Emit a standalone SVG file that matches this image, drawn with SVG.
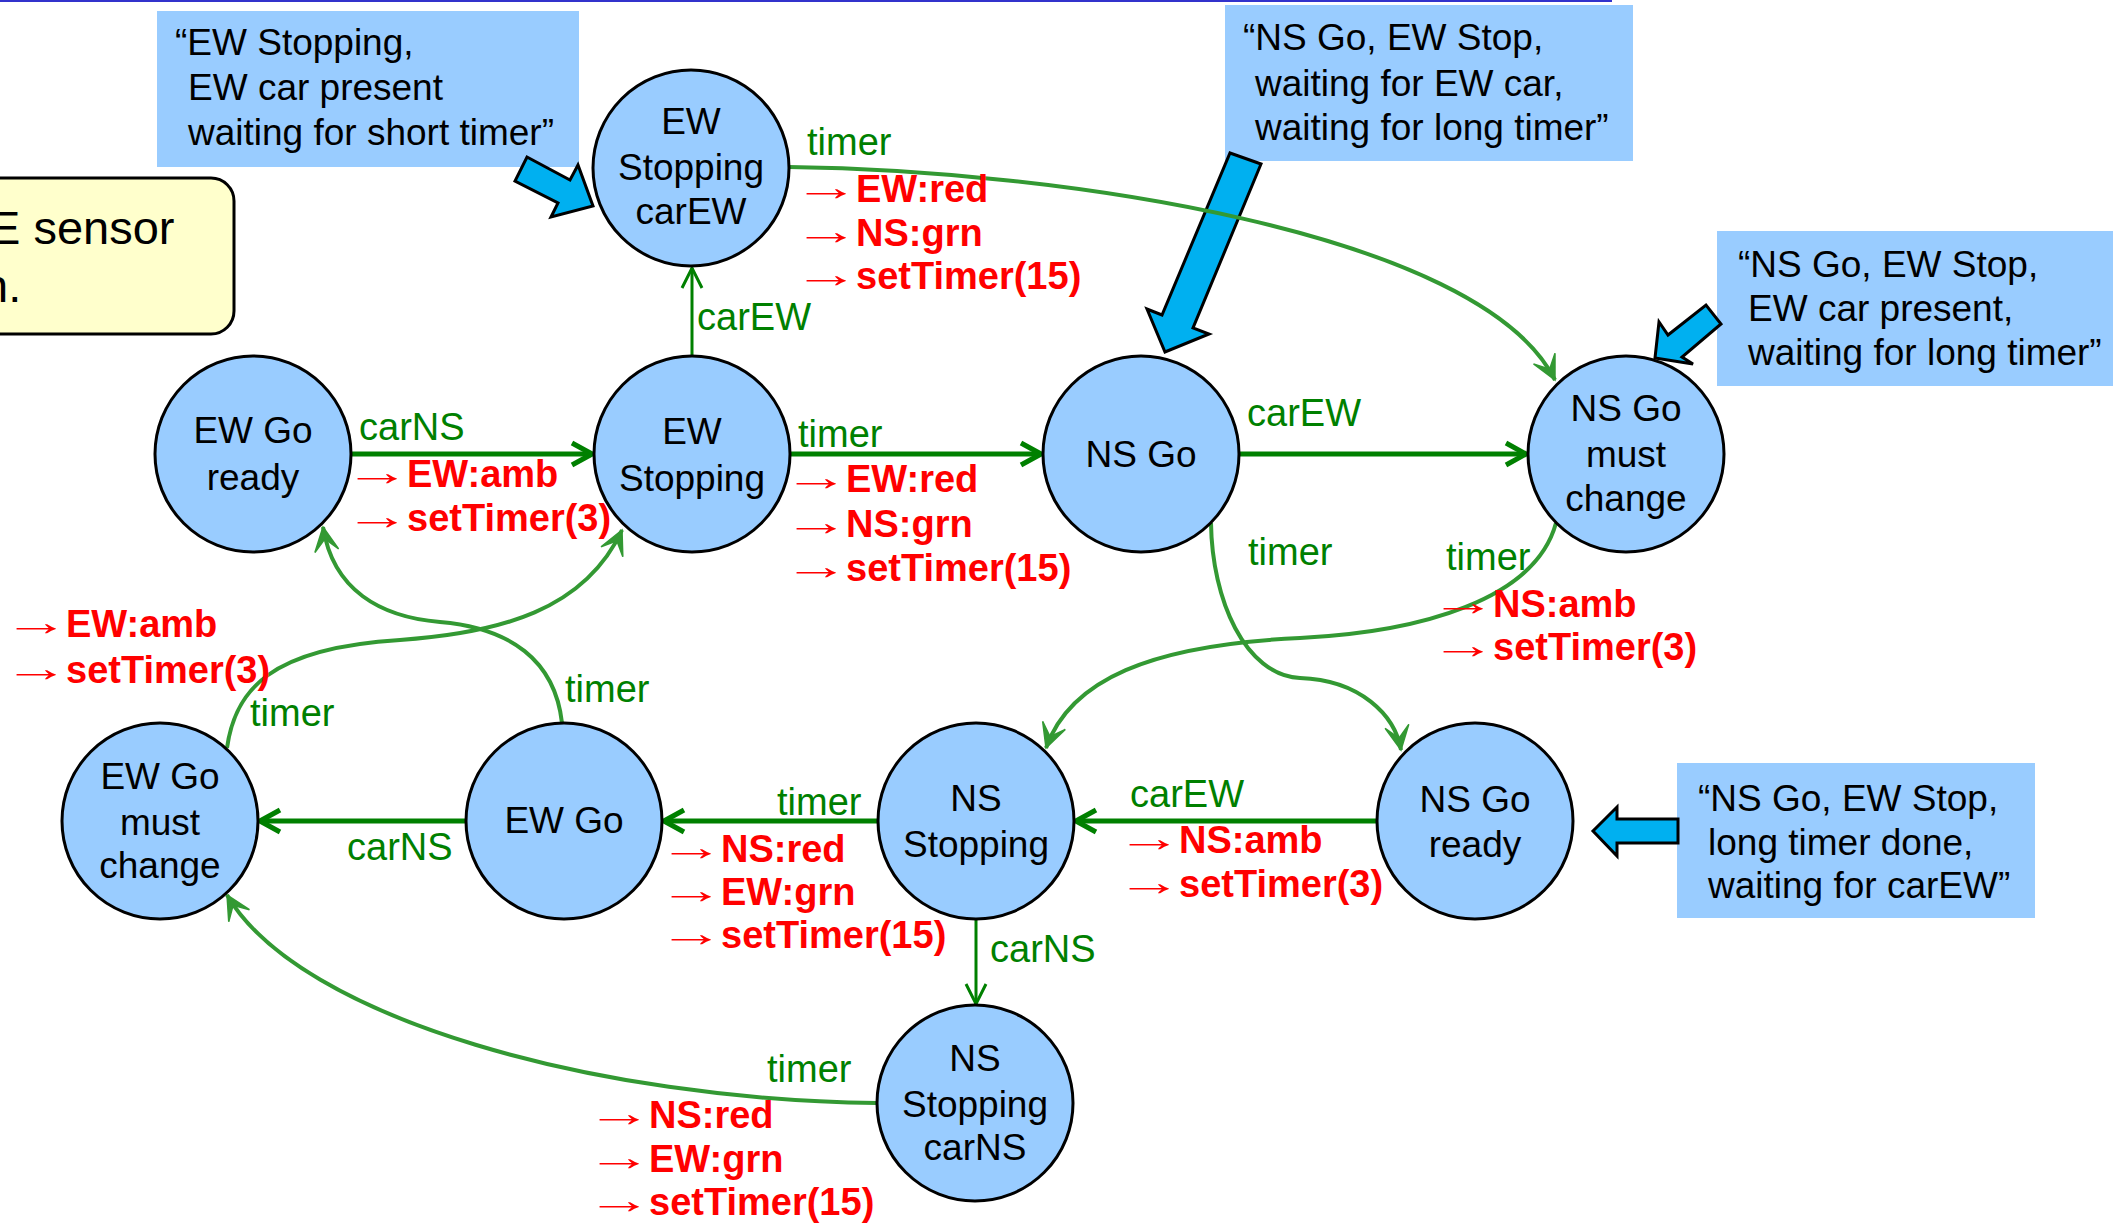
<svg xmlns="http://www.w3.org/2000/svg" width="2113" height="1225" viewBox="0 0 2113 1225">
  <style>
    .st circle { fill: #99ccff; stroke: #000; stroke-width: 3; }
    .st text { font-family: "Liberation Sans", Arial, sans-serif; font-size: 37px; text-anchor: middle; fill: #000; }
    .lbl { font-family: "Liberation Sans", Arial, sans-serif; font-size: 38px; fill: #008000; }
    .act { font-family: "Liberation Sans", Arial, sans-serif; font-size: 38px; font-weight: bold; fill: #ff0000; }
    .ar { font-family: "Liberation Sans", Arial, sans-serif; font-size: 38px; fill: #ff0000; }
    .note rect { fill: #99ccff; }
    .note polygon { fill: #00b0f0; stroke: #000; stroke-width: 3; stroke-linejoin: miter; }
    .note text { font-family: "Liberation Sans", Arial, sans-serif; font-size: 37px; fill: #000; }
    .straight { fill: none; stroke: #008000; stroke-width: 5; marker-end: url(#chev); }
    .thin { fill: none; stroke: #008000; stroke-width: 3; marker-end: url(#chevThin); }
    .curve { fill: none; stroke: #339933; stroke-width: 4; marker-end: url(#barb); }
  </style>
  <defs>
    <marker id="chev" markerUnits="userSpaceOnUse" viewBox="-24 -14 28 28" refX="0" refY="0" markerWidth="28" markerHeight="28" orient="auto">
      <path d="M-20,-11 L0,0 L-20,11" fill="none" stroke="#008000" stroke-width="5"/>
    </marker>
    <marker id="chevThin" markerUnits="userSpaceOnUse" viewBox="-24 -14 28 28" refX="0" refY="0" markerWidth="28" markerHeight="28" orient="auto">
      <path d="M-20,-10 L0,0 L-20,10" fill="none" stroke="#008000" stroke-width="3"/>
    </marker>
    <marker id="barb" markerUnits="userSpaceOnUse" viewBox="-26 -14 30 28" refX="0" refY="0" markerWidth="30" markerHeight="28" orient="auto">
      <path d="M0,0 L-24,-12 L-12,0 L-24,12 Z" fill="#339933" stroke="#339933" stroke-width="1.5" stroke-linejoin="miter"/>
    </marker>
  </defs>

  <rect x="0" y="0" width="1612" height="2" fill="#3333cc"/>

  <!-- sticky note running off the left edge -->
  <g id="sensor-note">
    <rect x="-40" y="178" width="274" height="156" rx="23" fill="#ffffcc" stroke="#000" stroke-width="3"/>
    <text x="-11" y="244" font-family="'Liberation Sans', Arial, sans-serif" font-size="47" fill="#000">E sensor</text>
    <text x="-18" y="302" font-family="'Liberation Sans', Arial, sans-serif" font-size="47" fill="#000">n.</text>
  </g>

  <!-- callouts -->
  <g id="note-ew-stopping-carew" class="note">
    <rect x="157" y="11" width="422" height="156"/>
    <text x="175" y="55">“EW Stopping,</text>
    <text x="188" y="100">EW car present</text>
    <text x="188" y="145">waiting for short timer”</text>
    <polygon points="527,157 570,180 578,165 593,206 551,217 558,203 515,181"/>
  </g>
  <g id="note-ns-go" class="note">
    <rect x="1225" y="5" width="408" height="156"/>
    <text x="1243" y="50">“NS Go, EW Stop,</text>
    <text x="1255" y="96">waiting for EW car,</text>
    <text x="1255" y="140">waiting for long timer”</text>
    <polygon points="1230,153 1261,164 1193,328 1209,334 1165,352 1147,309 1162,315"/>
  </g>
  <g id="note-ns-go-must-change" class="note">
    <rect x="1717" y="231" width="400" height="155"/>
    <text x="1738" y="277">“NS Go, EW Stop,</text>
    <text x="1748" y="321">EW car present,</text>
    <text x="1748" y="365">waiting for long timer”</text>
    <polygon points="1655,358 1659,322 1668,335 1706,305 1721,324 1682,357 1693,364"/>
  </g>
  <g id="note-ns-go-ready" class="note">
    <rect x="1677" y="763" width="358" height="155"/>
    <text x="1698" y="811">“NS Go, EW Stop,</text>
    <text x="1708" y="855">long timer done,</text>
    <text x="1708" y="898">waiting for carEW”</text>
    <polygon points="1678,819 1617,819 1617,807 1593,831 1617,856 1617,843 1678,843"/>
  </g>

  <!-- transitions -->
  <g id="connectors">
    <path class="straight" d="M351,454 L592,454"/>
    <path class="straight" d="M790,454 L1041,454"/>
    <path class="straight" d="M1239,454 L1526,454"/>
    <path class="thin" d="M692,356 L692,268"/>
    <path class="straight" d="M1377,821 L1076,821"/>
    <path class="straight" d="M878,821 L664,821"/>
    <path class="straight" d="M466,821 L260,821"/>
    <path class="thin" d="M976,919 L976,1004"/>

    <path class="curve" d="M789,167 C1050,170 1480,230 1555,380"/>
    <path class="curve" d="M1211,523 C1212,600 1245,675 1300,678 C1360,680 1395,715 1401,750"/>
    <path class="curve" d="M1556,523 C1535,600 1420,632 1300,638 C1150,645 1070,680 1046,748"/>
    <path class="curve" d="M877,1103 C600,1100 300,1020 227,895"/>
    <path class="curve" d="M227,748 C235,690 270,648 400,640 C500,633 585,610 622,530"/>
    <path class="curve" d="M562,723 C555,660 510,628 440,622 C380,617 333,590 323,527"/>

    <!-- EW Go ready -> EW Stopping -->
    <text class="lbl" x="359" y="440">carNS</text>
    <text class="ar" transform="translate(344 485) scale(1.75 1)">→</text>
    <text class="act" x="407" y="487">EW:amb</text>
    <text class="ar" transform="translate(344 529) scale(1.75 1)">→</text>
    <text class="act" x="407" y="531">setTimer(3)</text>

    <!-- EW Stopping -> NS Go -->
    <text class="lbl" x="798" y="447">timer</text>
    <text class="ar" transform="translate(783 490) scale(1.75 1)">→</text>
    <text class="act" x="846" y="492">EW:red</text>
    <text class="ar" transform="translate(783 535) scale(1.75 1)">→</text>
    <text class="act" x="846" y="537">NS:grn</text>
    <text class="ar" transform="translate(783 579) scale(1.75 1)">→</text>
    <text class="act" x="846" y="581">setTimer(15)</text>

    <text class="lbl" x="1247" y="426">carEW</text>
    <text class="lbl" x="697" y="330">carEW</text>

    <!-- EW Stopping carEW -> NS Go must change -->
    <text class="lbl" x="807" y="155">timer</text>
    <text class="ar" transform="translate(793 200) scale(1.75 1)">→</text>
    <text class="act" x="856" y="202">EW:red</text>
    <text class="ar" transform="translate(793 244) scale(1.75 1)">→</text>
    <text class="act" x="856" y="246">NS:grn</text>
    <text class="ar" transform="translate(793 287) scale(1.75 1)">→</text>
    <text class="act" x="856" y="289">setTimer(15)</text>

    <text class="lbl" x="1248" y="565">timer</text>

    <!-- NS Go must change -> NS Stopping -->
    <text class="lbl" x="1446" y="570">timer</text>
    <text class="ar" transform="translate(1430 615) scale(1.75 1)">→</text>
    <text class="act" x="1493" y="617">NS:amb</text>
    <text class="ar" transform="translate(1430 658) scale(1.75 1)">→</text>
    <text class="act" x="1493" y="660">setTimer(3)</text>

    <!-- NS Go ready -> NS Stopping -->
    <text class="lbl" x="1130" y="807">carEW</text>
    <text class="ar" transform="translate(1116 851) scale(1.75 1)">→</text>
    <text class="act" x="1179" y="853">NS:amb</text>
    <text class="ar" transform="translate(1116 895) scale(1.75 1)">→</text>
    <text class="act" x="1179" y="897">setTimer(3)</text>

    <!-- NS Stopping -> EW Go -->
    <text class="lbl" x="777" y="815">timer</text>
    <text class="ar" transform="translate(658 860) scale(1.75 1)">→</text>
    <text class="act" x="721" y="862">NS:red</text>
    <text class="ar" transform="translate(658 903) scale(1.75 1)">→</text>
    <text class="act" x="721" y="905">EW:grn</text>
    <text class="ar" transform="translate(658 946) scale(1.75 1)">→</text>
    <text class="act" x="721" y="948">setTimer(15)</text>

    <text class="lbl" x="347" y="860">carNS</text>
    <text class="lbl" x="990" y="962">carNS</text>

    <!-- NS Stopping carNS -> EW Go must change -->
    <text class="lbl" x="767" y="1082">timer</text>
    <text class="ar" transform="translate(586 1126) scale(1.75 1)">→</text>
    <text class="act" x="649" y="1128">NS:red</text>
    <text class="ar" transform="translate(586 1170) scale(1.75 1)">→</text>
    <text class="act" x="649" y="1172">EW:grn</text>
    <text class="ar" transform="translate(586 1213) scale(1.75 1)">→</text>
    <text class="act" x="649" y="1215">setTimer(15)</text>

    <!-- EW Go must change -> EW Stopping -->
    <text class="lbl" x="250" y="726">timer</text>
    <text class="ar" transform="translate(3 635) scale(1.75 1)">→</text>
    <text class="act" x="66" y="637">EW:amb</text>
    <text class="ar" transform="translate(3 681) scale(1.75 1)">→</text>
    <text class="act" x="66" y="683">setTimer(3)</text>

    <text class="lbl" x="565" y="702">timer</text>
  </g>

  <!-- states -->
  <g id="ew-stopping-carew" class="st">
    <circle cx="691" cy="168" r="98"/>
    <text x="691" y="134">EW</text><text x="691" y="180">Stopping</text><text x="691" y="224">carEW</text>
  </g>
  <g id="ew-go-ready" class="st">
    <circle cx="253" cy="454" r="98"/>
    <text x="253" y="443">EW Go</text><text x="253" y="490">ready</text>
  </g>
  <g id="ew-stopping" class="st">
    <circle cx="692" cy="454" r="98"/>
    <text x="692" y="444">EW</text><text x="692" y="491">Stopping</text>
  </g>
  <g id="ns-go" class="st">
    <circle cx="1141" cy="454" r="98"/>
    <text x="1141" y="467">NS Go</text>
  </g>
  <g id="ns-go-must-change" class="st">
    <circle cx="1626" cy="454" r="98"/>
    <text x="1626" y="421">NS Go</text><text x="1626" y="467">must</text><text x="1626" y="511">change</text>
  </g>
  <g id="ew-go-must-change" class="st">
    <circle cx="160" cy="821" r="98"/>
    <text x="160" y="789">EW Go</text><text x="160" y="835">must</text><text x="160" y="878">change</text>
  </g>
  <g id="ew-go" class="st">
    <circle cx="564" cy="821" r="98"/>
    <text x="564" y="833">EW Go</text>
  </g>
  <g id="ns-stopping" class="st">
    <circle cx="976" cy="821" r="98"/>
    <text x="976" y="811">NS</text><text x="976" y="857">Stopping</text>
  </g>
  <g id="ns-go-ready" class="st">
    <circle cx="1475" cy="821" r="98"/>
    <text x="1475" y="812">NS Go</text><text x="1475" y="857">ready</text>
  </g>
  <g id="ns-stopping-carns" class="st">
    <circle cx="975" cy="1103" r="98"/>
    <text x="975" y="1071">NS</text><text x="975" y="1117">Stopping</text><text x="975" y="1160">carNS</text>
  </g>
</svg>
